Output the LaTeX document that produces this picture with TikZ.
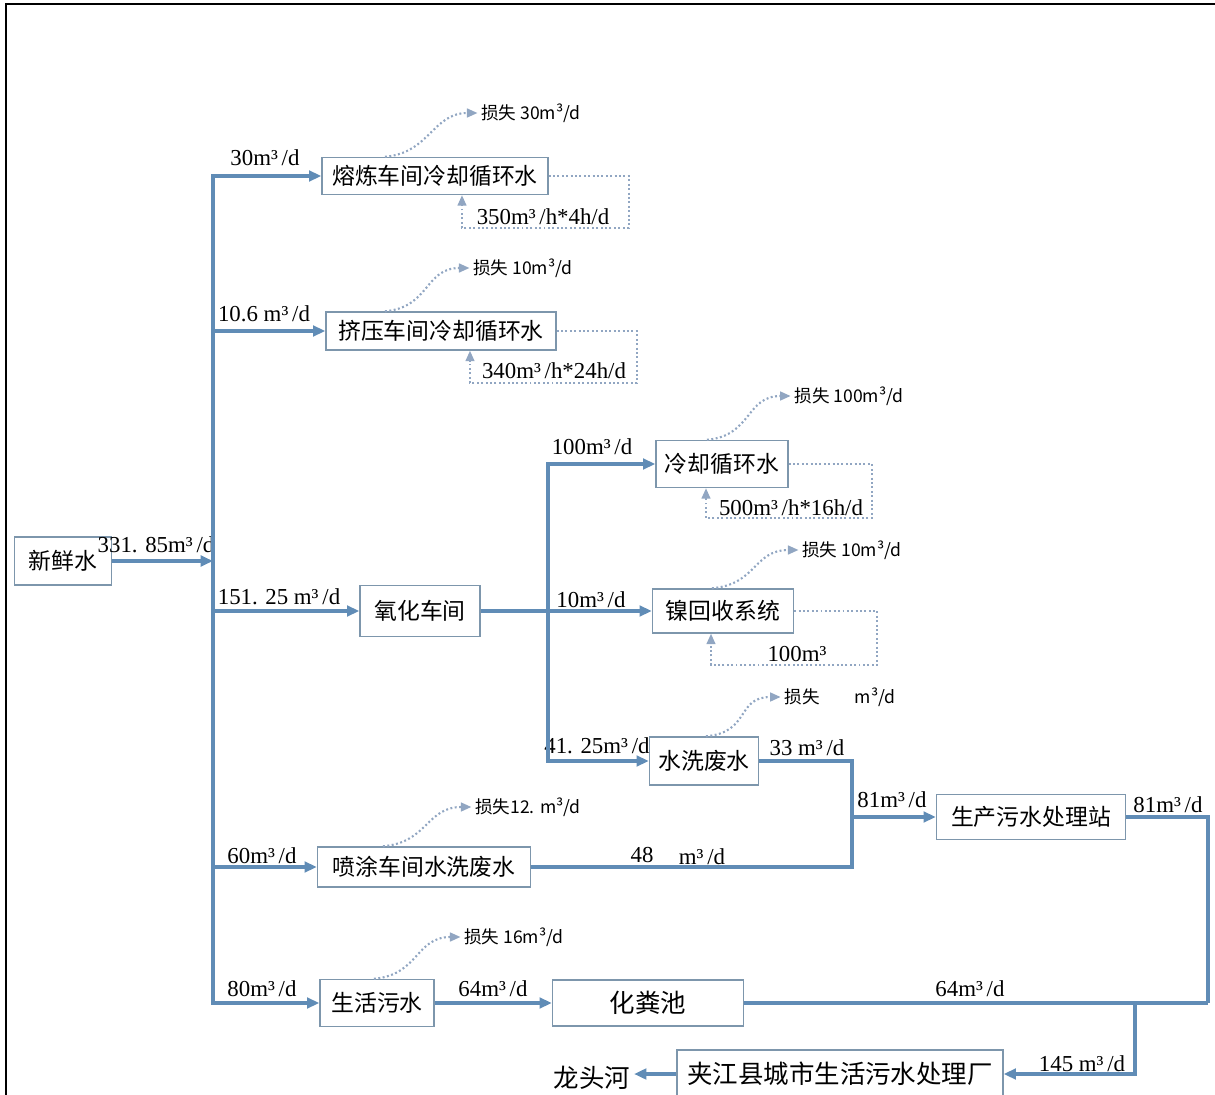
\documentclass[tikz,border=0pt]{standalone}
\usepackage{fontspec}
\setmainfont{Liberation Serif}
\newfontfamily\cjk{Noto Sans CJK SC}
\usetikzlibrary{arrows.meta, calc}

\definecolor{flowblue}{RGB}{96,140,182}
\definecolor{boxgray}{RGB}{125,150,172}
\definecolor{dotblue}{RGB}{145,166,194}

\begin{document}
\begin{tikzpicture}[
    x=0.02cm, y=-0.02cm,
    box/.style={rectangle, draw=boxgray, line width=0.8pt, fill=white, inner sep=0pt, font=\cjk\fontsize{13}{15}\selectfont},
    bigbox/.style={box, font=\cjk\fontsize{14.5}{16}\selectfont},
    flow/.style={draw=flowblue, line width=1.8pt, -{Triangle[length=7pt,width=6pt]}},
    pipe/.style={draw=flowblue, line width=1.8pt},
    recirc/.style={draw=dotblue, line width=1.2pt, dash pattern=on 1.1pt off 1.4pt, -{Triangle[length=6pt,width=5pt]}},
    qty/.style={font=\fontsize{13}{15}\selectfont, inner sep=1pt},
    losslbl/.style={font=\cjk\fontsize{10}{12}\selectfont, inner sep=2pt}
]
\useasboundingbox (0,0) rectangle (1215,1095);

% Frame
\draw [line width=1.1pt] (6,1110) |- (1225,4);

% Nodes
\node (fresh) [box, minimum width=1.94cm, minimum height=0.96cm] at (63,561) {新鲜水};
\node (melt) [box, minimum width=4.52cm, minimum height=0.74cm] at (435,176) {熔炼车间冷却循环水};
\node (extr) [box, minimum width=4.6cm, minimum height=0.76cm] at (441,331) {挤压车间冷却循环水};
\node (cool) [box, minimum width=2.64cm, minimum height=0.94cm] at (722,464) {冷却循环水};
\node (oxid) [box, minimum width=2.4cm, minimum height=1.02cm] at (420,611) {氧化车间};
\node (nick) [box, minimum width=2.82cm, minimum height=0.88cm] at (723,611) {镍回收系统};
\node (rinse) [box, minimum width=2.18cm, minimum height=0.96cm] at (704,761) {水洗废水};
\node (plant) [box, minimum width=3.78cm, minimum height=0.9cm] at (1031,817) {生产污水处理站};
\node (spray) [box, minimum width=4.26cm, minimum height=0.8cm] at (424,867) {喷涂车间水洗废水};
\node (dom) [box, minimum width=2.28cm, minimum height=0.94cm] at (377,1003) {生活污水};
\node (sept) [bigbox, minimum width=3.82cm, minimum height=0.92cm] at (648,1003) {化粪池};
\node (city) [bigbox, minimum width=6.52cm, minimum height=0.96cm] at (840,1074) {夹江县城市生活污水处理厂};
\node (river) [font=\cjk\fontsize{14.5}{16}\selectfont, inner sep=2pt] at (592,1078) {龙头河};

% Loss labels
\node (lmelt) [losslbl] at (531,113) {损失 30m³/d};
\node (lextr) [losslbl] at (523,268) {损失 10m³/d};
\node (lcool) [losslbl] at (849,396) {损失 100m³/d};
\node (lnick) [losslbl] at (852,550) {损失 10m³/d};
\node (lrinse) [losslbl] at (840,697) {损失\hspace{2em}m³/d};
\node (lspray) [losslbl] at (528,807) {损失12. m³/d};
\node (ldom) [losslbl] at (514,937) {损失 16m³/d};

% Quantities
\node (qfresh) [qty] at (156,545) {331. 85m³\,/d};
\node (qmelt) [qty] at (265,158) {30m³\,/d};
\node (qextr) [qty] at (264,314) {10.6 m³\,/d};
\node (qoxid) [qty] at (279,597) {151. 25 m³\,/d};
\node (qspray) [qty] at (262,856) {60m³\,/d};
\node (qdom) [qty] at (262,989) {80m³\,/d};
\node (qcool) [qty] at (592,447) {100m³\,/d};
\node (qnick) [qty] at (591,600) {10m³\,/d};
\node (qrinse) [qty] at (597,746) {41. 25m³\,/d};
\node (qrout) [qty] at (807,748) {33 m³\,/d};
\node (qsout) [qty] at (642,855) {48};
\node (qsunit) [qty] at (702,857) {m³\,/d};
\node (qpin) [qty] at (892,800) {81m³\,/d};
\node (qpout) [qty] at (1168,805) {81m³\,/d};
\node (qdout) [qty] at (493,989) {64m³\,/d};
\node (qsept) [qty] at (970,989) {64m³\,/d};
\node (qcity) [qty] at (1082,1064) {145 m³\,/d};
\node (rmelt) [qty] at (543,217) {350m³\,/h*4h/d};
\node (rextr) [qty] at (554,371) {340m³\,/h*24h/d};
\node (rcool) [qty] at (791,508) {500m³\,/h*16h/d};
\node (rnick) [qty] at (797,654) {100m³};

% Junctions
\coordinate (tmid) at (213,561);
\coordinate (osplit) at (548,611);
\coordinate (pjoin) at (852,817);
\coordinate (ejoin) at (1208,1003);
\coordinate (cjoin) at (1135,1003);

% Arrows
\draw [flow] (fresh.east) -- (fresh.east -| tmid);
\draw [flow] (tmid) |- (melt.west);
\draw [flow] (tmid) |- (dom.west);
\draw [flow] (tmid |- extr.west) -- (extr.west);
\draw [flow] (tmid |- oxid.west) -- (oxid.west);
\draw [flow] (tmid |- spray.west) -- (spray.west);
\draw [flow] (oxid.east) -- (nick.west);
\draw [flow] (osplit) |- (cool.west);
\draw [flow] (osplit) |- (rinse.west);
\draw [pipe] (rinse.east) -| (pjoin);
\draw [pipe] (spray.east) -| (pjoin);
\draw [flow] (pjoin) -- (plant.west);
\draw [pipe] (plant.east) -| (ejoin);
\draw [pipe] (sept.east) -- (ejoin);
\draw [flow] (cjoin) |- (city.east);
\draw [flow] (dom.east) -- (sept.west);
\draw [flow] (city.west) -- (city.west -| river.east);

% Losses
\draw [recirc] ([xshift=-1cm]melt.north) .. controls +(45,-4) and +(-45,0) .. (lmelt.west);
\draw [recirc] ([xshift=-1.12cm]extr.north) .. controls +(45,-4) and +(-45,0) .. (lextr.west);
\draw [recirc] ([xshift=-0.3cm]cool.north) .. controls +(45,-4) and +(-45,0) .. (lcool.west);
\draw [recirc] ([xshift=-0.22cm]nick.north) .. controls +(45,-4) and +(-45,0) .. (lnick.west);
\draw [recirc] ([xshift=0.04cm]rinse.north) .. controls +(45,-4) and +(-45,0) .. (lrinse.west);
\draw [recirc] ([xshift=-0.82cm]spray.north) .. controls +(45,-4) and +(-45,0) .. (lspray.west);
\draw [recirc] ([xshift=-0.06cm]dom.north) .. controls +(45,-4) and +(-45,0) .. (ldom.west);

% Recirculation
\draw [recirc] (melt.east) -| ++(80,52) -| ([xshift=0.54cm]melt.south);
\draw [recirc] (extr.east) -| ++(80,52) -| ([xshift=0.58cm]extr.south);
\draw [recirc] (cool.east) -| ++(83,54) -| ([xshift=-0.32cm]cool.south);
\draw [recirc] (nick.east) -| ++(83,54) -| ([xshift=-0.24cm]nick.south);

\end{tikzpicture}
\end{document}
